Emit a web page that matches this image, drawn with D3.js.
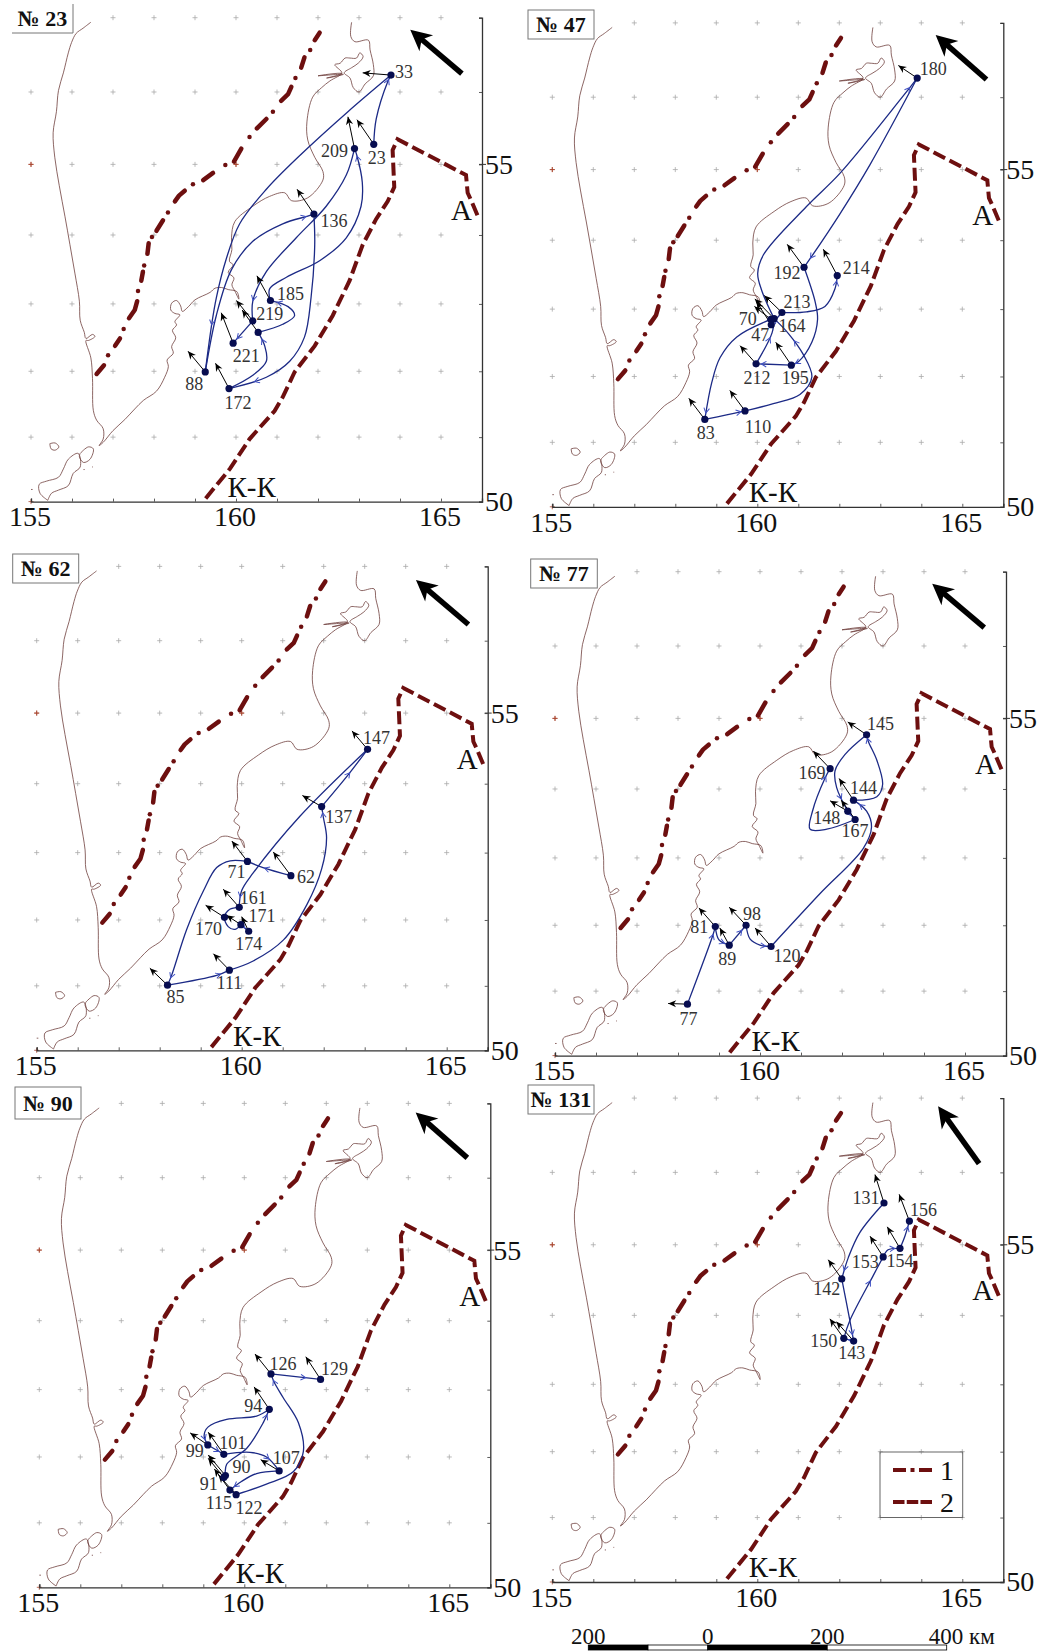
<!DOCTYPE html>
<html>
<head>
<meta charset="utf-8">
<script src="https://cdn.jsdelivr.net/npm/d3@7"></script>
<style>
    body { margin: 0; background: #fff; }
    text { font-family: "Liberation Serif", serif; }
</style>
</head>
<body>
<div id="chart"></div>
<script>
// map base, all in lon / lat
const coastMain = [[156.46,56.94],[156.27,56.86],[156.10,56.79],[155.99,56.67],[155.91,56.53],[155.79,56.26],[155.67,56.02],[155.62,55.73],[155.54,55.44],[155.58,55.10],[155.69,54.70],[155.83,54.26],[155.95,53.86],[156.07,53.45],[156.18,53.04],[156.20,52.76],[156.30,52.58],[156.34,52.49],[156.50,52.55],[156.56,52.52],[156.40,52.46],[156.34,52.46],[156.46,52.20],[156.50,51.89],[156.52,51.41],[156.60,51.26],[156.76,51.13],[156.76,50.97],[156.66,50.87],[156.76,50.92],[157.00,51.10],[157.29,51.27],[157.53,51.43],[157.74,51.56],[158.06,51.70],[158.26,51.91],[158.35,52.07],[158.32,52.17],[158.47,52.27],[158.43,52.37],[158.53,52.50],[158.45,52.61],[158.55,52.69],[158.51,52.74],[158.63,52.84],[158.51,52.86],[158.41,52.91],[158.43,53.01],[158.55,53.05],[158.65,52.97],[158.69,52.89],[158.84,52.96],[159.00,53.06],[159.37,53.17],[159.49,53.23],[159.65,53.24],[159.81,53.21],[160.02,53.18],[160.07,53.07],[159.98,53.18],[159.90,53.28],[159.95,53.38],[159.81,53.46],[159.93,53.57],[159.84,53.62],[159.90,53.79],[159.89,53.96],[159.97,54.19],[160.41,54.41],[160.82,54.55],[161.19,54.60],[161.35,54.49],[161.75,54.53],[162.12,54.78],[162.12,54.90],[161.92,55.10],[161.75,55.34],[161.73,55.59],[161.87,55.93],[162.09,56.06],[162.29,56.15],[162.58,56.25],[162.00,56.22],[162.62,56.24],[162.21,56.19],[162.58,56.26],[162.41,56.37],[162.54,56.39],[162.66,56.46],[162.78,56.46],[162.94,56.46],[163.02,56.53],[163.10,56.48],[162.98,56.39],[162.82,56.33],[162.64,56.26],[162.78,56.19],[162.86,56.06],[163.00,56.00],[163.15,56.11],[163.35,56.22],[163.35,56.37],[163.27,56.57],[163.23,56.70],[162.90,56.68],[162.80,56.75],[162.82,56.94]];
const coastParamushir = [[155.41,50.02],[155.22,50.13],[155.20,50.27],[155.38,50.32],[155.67,50.38],[155.79,50.51],[155.91,50.66],[156.15,50.75],[156.20,50.54],[156.03,50.44],[155.91,50.25],[155.67,50.18],[155.50,50.13],[155.41,50.02]];
const coastShumshu = [[156.20,50.75],[156.40,50.85],[156.52,50.82],[156.44,50.66],[156.28,50.61],[156.18,50.70],[156.20,50.75]];
const coastAlaid = [[155.46,50.90],[155.59,50.91],[155.68,50.85],[155.59,50.80],[155.49,50.82],[155.46,50.90]];
const coastRocks = [[[155.00,50.19],[155.04,50.19]],[[156.28,50.50],[156.31,50.50]],[[156.49,50.54],[156.51,50.54]]];

// line 1 is dash, dot, dash: one entry per stroke, a dot is one point drawn twice
const lineOne = [
    [[156.60,51.96],[156.78,52.09]],
    [[156.88,52.24],[156.88,52.24]],
    [[157.05,52.38],[157.17,52.49]],
    [[157.26,52.63],[157.26,52.63]],
    [[157.39,52.79],[157.53,52.91],[157.59,53.04]],
    [[157.61,53.19],[157.61,53.19]],
    [[157.69,53.34],[157.73,53.47]],
    [[157.76,53.56],[157.76,53.56]],
    [[157.84,53.73],[157.87,53.88]],
    [[157.95,53.97],[157.95,53.97]],
    [[158.06,54.06],[158.22,54.21]],
    [[158.34,54.32],[158.34,54.32]],
    [[158.51,54.48],[158.61,54.56],[158.75,54.63]],
    [[158.95,54.72],[158.95,54.72]],
    [[159.20,54.78],[159.44,54.88]],
    [[159.74,54.99],[159.74,54.99]],
    [[159.95,55.04],[160.13,55.22]],
    [[160.33,55.38],[160.33,55.38]],
    [[160.51,55.50],[160.74,55.63]],
    [[160.90,55.73],[160.90,55.73]],
    [[161.10,55.88],[161.27,55.97],[161.35,56.07]],
    [[161.45,56.19],[161.45,56.19]],
    [[161.59,56.33],[161.67,56.47]],
    [[161.81,56.57],[161.81,56.57]],
    [[161.92,56.70],[162.04,56.80]]
];
const lineTwo = [[159.26,50.05],[159.85,50.51],[160.33,50.97],[160.94,51.40],[161.14,51.61],[161.43,51.99],[161.92,52.38],[162.36,52.83],[162.77,53.34],[163.09,53.86],[163.42,54.23],[163.70,54.48],[163.86,54.68],[163.82,55.20],[163.94,55.35],[165.61,54.85],[165.65,54.60],[165.73,54.50],[165.89,54.28]];

const lonTicks = d3.range(155, 167);
const latTicks = d3.range(50, 58);
const lonLabels = [155, 160, 165];
const latLabels = [50, 55];
const redCrosses = [[155,50],[155,55],[160,55]];
const placeNames = [["А",165.5,54.36],["К-К",160.38,50.23]];

// stations: label, lon, lat, drift arrow tip lon, tip lat
const stations23 = [["33",163.78,56.23,163.09,56.26],["23",163.36,55.28,162.95,55.62],["209",162.89,55.22,162.73,55.66],["136",161.90,54.30,161.49,54.65],["185",160.84,53.05,160.51,53.41],["219",160.41,52.75,160.01,53.05],["",160.54,52.58,160.15,52.91],["221",159.93,52.42,159.64,52.87],["88",159.25,51.99,158.83,52.30],["172",159.83,51.74,159.50,52.12]];
const labelShift23 = [[13,-3],[3,13],[-20,2],[20,7],[20,-7],[17,-7],[0,0],[13,13],[-11,12],[9,14]];
const tracks23 = [
    {at: .93, pts: [[163.36,55.28],[163.42,55.63],[163.70,56.14],[163.78,56.23]]},
    {at: .87, pts: [[163.78,56.23],[162.73,55.73],[161.55,55.12],[160.74,54.65],[160.09,54.16],[159.76,53.65],[159.52,53.09],[159.40,52.67],[159.25,51.99]]},
    {at: .96, pts: [[159.25,51.99],[159.52,52.83],[159.89,53.50],[160.41,53.91],[161.14,54.16],[161.75,54.27],[161.90,54.30]]},
    {at: .88, pts: [[161.90,54.30],[161.92,53.86],[161.83,53.09],[161.67,52.51],[161.31,52.15],[160.74,51.91],[159.83,51.74]]},
    {at: .9, pts: [[159.83,51.74],[160.41,51.94],[160.74,52.15],[160.70,52.38],[160.54,52.58]]},
    {at: .9, pts: [[160.54,52.58],[161.14,52.70],[161.43,52.83],[161.27,52.96],[160.84,53.05]]},
    {at: .96, pts: [[160.84,53.05],[160.82,53.22],[161.23,53.39],[162.04,53.63],[162.69,53.96],[163.05,54.41],[163.08,54.75],[162.95,55.12],[162.89,55.22]]},
    {at: .9, pts: [[162.89,55.22],[162.69,54.85],[162.20,54.41],[161.47,53.96],[160.74,53.47],[160.41,53.04],[160.41,52.75]]},
    {at: .8, pts: [[160.41,52.75],[159.93,52.42]]}
];
const wind23 = [165.51,56.25,164.25,56.84];

const stations47 = [["180",163.90,56.26,163.44,56.43],["192",161.14,53.61,160.73,53.94],["214",161.95,53.49,161.61,53.87],["213",160.60,52.95,160.17,53.20],["164",160.41,52.86,159.94,53.15],["70",160.33,52.85,159.93,53.04],["47",160.34,52.77,159.98,53.11],["212",159.97,52.19,159.58,52.46],["195",160.83,52.17,160.45,52.51],["110",159.70,51.48,159.33,51.79],["83",158.72,51.35,158.33,51.67]];
const labelShift47 = [[16,-9],[-17,5],[19,-8],[15,-11],[18,7],[-23,-1],[-11,10],[1,14],[4,13],[13,16],[1,13]];
const tracks47 = [
    {at: .9, pts: [[158.72,51.35],[159.25,51.42],[159.70,51.48]]},
    {at: .8, pts: [[159.70,51.48],[160.39,51.59],[161.04,51.73],[161.33,51.99],[161.12,52.33],[160.76,52.64],[160.41,52.86]]},
    {at: .6, pts: [[159.97,52.19],[160.36,52.65],[160.41,52.86]]},
    {at: .85, pts: [[160.83,52.17],[159.97,52.19]]},
    {at: .96, pts: [[161.14,53.61],[161.41,53.11],[161.47,52.85],[161.33,52.51],[161.00,52.22],[160.83,52.17]]},
    {at: .95, pts: [[163.90,56.26],[162.75,55.07],[162.02,54.38],[161.33,53.77],[161.14,53.61]]},
    {at: .96, pts: [[160.41,52.86],[160.11,53.27],[160.01,53.52],[160.15,53.79],[161.20,54.48],[162.02,54.95],[163.52,55.99],[163.90,56.26]]},
    {at: .95, pts: [[160.33,52.85],[159.50,52.59],[159.09,52.28],[158.89,51.91],[158.72,51.35]]},
    {at: .93, pts: [[160.60,52.95],[161.20,52.96],[161.65,53.04],[161.89,53.29],[161.95,53.49]]},
    {at: .5, pts: [[160.34,52.77],[160.60,52.95]]}
];
const wind47 = [165.59,56.24,164.35,56.84];

const stations62 = [["147",163.07,54.49,162.69,54.75],["137",161.95,53.67,161.48,53.83],["62",161.20,52.66,160.77,53.01],["71",160.14,52.87,159.76,53.17],["161",159.94,52.19,159.55,52.46],["170",159.58,52.04,159.12,52.22],["171",159.98,51.93,159.63,52.07],["174",160.17,51.83,160.00,52.05],["111",159.70,51.24,159.31,51.49],["85",158.19,51.01,157.76,51.27]];
const labelShift62 = [[9,-12],[17,10],[15,1],[-11,10],[14,-10],[-16,11],[21,-9],[0,12],[0,13],[8,12]];
const tracks62 = [
    {at: .6, pts: [[161.20,52.66],[160.52,52.78],[160.14,52.87]]},
    {at: .95, pts: [[160.14,52.87],[159.72,52.88],[159.39,52.78],[159.07,52.44],[158.66,51.86],[158.29,51.16],[158.19,51.01]]},
    {at: .85, pts: [[158.19,51.01],[159.39,51.16],[159.70,51.24]]},
    {at: .97, pts: [[159.70,51.24],[160.28,51.38],[161.02,51.70],[161.59,52.23],[161.95,52.76],[162.07,53.22],[161.99,53.52],[161.95,53.67]]},
    {at: .6, pts: [[161.95,53.67],[162.60,54.13],[163.07,54.49]]},
    {at: .95, pts: [[163.07,54.49],[161.42,53.53],[160.28,52.70],[160.00,52.44],[159.94,52.19]]},
    {at: .5, pts: [[159.94,52.19],[159.71,52.16],[159.58,52.04],[159.67,51.90],[159.84,51.86],[159.98,51.93]]},
    {at: .5, pts: [[159.98,51.93],[160.17,51.83]]}
];
const wind62 = [165.53,56.22,164.25,56.82];

const stations77 = [["145",162.60,54.77,162.14,54.95],["169",161.71,54.29,161.30,54.54],["144",162.28,53.84,161.93,54.15],["148",162.14,53.68,161.71,53.83],["167",162.32,53.56,161.98,53.84],["120",160.27,51.68,159.88,51.96],["98",159.66,52.00,159.25,52.27],["89",159.25,51.70,159.02,51.96],["81",158.91,51.98,158.51,52.26],["77",158.23,50.80,157.76,50.81]];
const labelShift77 = [[14,-11],[-18,4],[10,-12],[-21,6],[0,11],[16,9],[6,-12],[-2,14],[-16,0],[1,15]];
const tracks77 = [
    {at: .9, pts: [[158.23,50.80],[158.85,51.85],[158.91,51.98]]},
    {at: .8, pts: [[158.91,51.98],[159.00,51.78],[159.25,51.70]]},
    {at: .75, pts: [[159.25,51.70],[159.66,52.00]]},
    {at: .85, pts: [[159.66,52.00],[159.76,51.79],[160.00,51.70],[160.27,51.68]]},
    {at: .96, pts: [[160.27,51.68],[161.46,52.47],[162.52,53.14],[162.72,53.45],[162.60,53.68],[162.28,53.84]]},
    {at: .96, pts: [[162.28,53.84],[162.85,53.89],[162.99,54.06],[162.85,54.41],[162.64,54.68],[162.60,54.77]]},
    {at: .85, pts: [[162.60,54.77],[162.07,54.49],[161.83,54.26],[161.87,54.02],[162.14,53.68]]},
    {at: .5, pts: [[162.14,53.68],[162.32,53.56]]},
    {at: .92, pts: [[162.32,53.56],[161.63,53.42],[161.22,53.42],[161.28,53.68],[161.59,54.16],[161.71,54.29]]}
];
const wind77 = [165.47,56.25,164.20,56.84];

const stations90 = [["126",160.65,53.23,160.26,53.52],["129",161.86,53.15,161.50,53.48],["94",160.61,52.71,160.24,53.04],["101",159.50,52.04,159.12,52.37],["99",159.11,52.18,158.68,52.36],["90",159.54,51.72,159.12,52.03],["91",159.50,51.69,159.12,51.98],["115",159.65,51.50,159.27,51.82],["122",159.80,51.43,159.37,51.73],["107",160.85,51.79,160.40,51.96]];
const labelShift90 = [[12,-10],[14,-11],[-16,-4],[9,-12],[-13,6],[16,-9],[-15,6],[-11,13],[13,13],[7,-13]];
const tracks90 = [
    {at: .93, pts: [[159.54,51.72],[159.57,51.89],[160.06,52.13],[160.46,52.51],[160.61,52.71]]},
    {at: .93, pts: [[160.61,52.71],[160.30,52.61],[159.57,52.56],[159.12,52.45],[159.02,52.32],[159.11,52.18]]},
    {at: .7, pts: [[159.11,52.18],[159.50,52.04]]},
    {at: .75, pts: [[159.50,52.04],[160.14,52.07],[160.54,52.00],[160.85,51.79]]},
    {at: .9, pts: [[160.85,51.79],[160.30,51.75],[159.93,51.63],[159.65,51.50]]},
    {at: .5, pts: [[159.65,51.50],[159.80,51.43]]},
    {at: .96, pts: [[159.80,51.43],[160.54,51.59],[161.20,51.78],[161.44,52.08],[161.32,52.51],[160.95,52.88],[160.72,53.12],[160.65,53.23]]},
    {at: .7, pts: [[160.65,53.23],[161.86,53.15]]}
];
const wind90 = [165.44,56.27,164.18,56.88];

const stations131 = [["131",163.09,55.58,162.87,55.97],["156",163.71,55.33,163.46,55.70],["153",163.07,54.83,162.75,55.12],["154",163.48,54.95,163.17,55.25],["142",162.06,54.52,161.73,54.79],["150",162.11,53.67,161.77,53.95],["143",162.35,53.63,161.93,53.91]];
const labelShift131 = [[-18,-5],[14,-11],[-18,5],[0,12],[-15,10],[-20,2],[-2,12]];
const tracks131 = [
    {at: .9, pts: [[163.09,55.58],[162.50,55.17],[162.22,54.82],[162.06,54.52]]},
    {at: .9, pts: [[162.06,54.52],[162.25,53.95],[162.35,53.63]]},
    {at: .5, pts: [[162.35,53.63],[162.11,53.67]]},
    {at: .7, pts: [[162.11,53.67],[162.26,53.93],[162.83,54.57],[163.07,54.83]]},
    {at: .75, pts: [[163.07,54.83],[163.19,54.93],[163.48,54.95]]},
    {at: .8, pts: [[163.48,54.95],[163.60,55.12],[163.71,55.33]]}
];
const wind131 = [165.41,56.12,164.41,56.89];

const titles = ["№ 23","№ 47","№ 62","№ 77","№ 90","№ 131"];
const stationSets = [stations23,stations47,stations62,stations77,stations90,stations131];
const labelShifts = [labelShift23,labelShift47,labelShift62,labelShift77,labelShift90,labelShift131];
const trackSets = [tracks23,tracks47,tracks62,tracks77,tracks90,tracks131];
const windSets = [wind23,wind47,wind62,wind77,wind90,wind131];

const legendKeys = ["1","2"];
const scaleStops = [-200,-100,0,200,400];
const scaleLabels = [[-200,"200"],[0,"0"],[200,"200"]];

// panel placement on the page
const panelOrigins = [[31,501.6],[552.3,506.8],[36.7,1050.3],[555,1055.6],[39.3,1587.3],[552.3,1582]];
const titleBoxes = [[12,4,61,29],[528,10,66,29],[12.7,554,66,29],[530.7,559,66.6,29],[15,1087,66,32],[528,1085,66,29]];

const pxPerDegree = 41;
const colors = {coast: "#6e3f3c", cross: "#a9a9a9", red: "#a8452f", border: "#6d0f0f", track: "#1c2a86", head: "#3f50c4", dot: "#070d50", text: "#333", axis: "#333"};
const dashTwo = "13 5";


class MapPanel {

    constructor(svg, index) {
        this.svg = svg;
        this.index = index;
        this.initVis();
    }

    initVis() {
        let vis = this;
        let [x0, y0] = panelOrigins[vis.index];

        vis.g = vis.svg.append("g").attr("class", "panel");

        vis.projection = d3.geoMercator()
            .scale(pxPerDegree * 180 / Math.PI)
            .center([155, 50])
            .translate([x0, y0]);

        vis.line = d3.line().x(d => vis.projection(d)[0]).y(d => vis.projection(d)[1]);
        vis.x = d3.scaleLinear().domain([155, 166]).range([x0, x0 + 11 * pxPerDegree]);
        vis.y = d3.scaleLinear().domain(latTicks).range(latTicks.map(la => vis.projection([155, la])[1]));

        vis.drawBase();
        vis.drawAxes();
        vis.drawTracks();
        vis.drawStations();
        vis.drawTitle();
    }

    drawBase() {
        let vis = this;

        // small crosses at every whole degree
        let crosses = [];
        lonTicks.slice(0, -1).forEach(lo => latTicks.slice(1).forEach(la => {
            if (la === 57 && lo < 157) return;
            crosses.push([lo, la]);
        }));
        redCrosses.forEach(c => crosses.push(c));

        vis.g.selectAll(".cross")
            .data(crosses)
            .enter()
            .append("path")
            .attr("class", "cross")
            .attr("d", d => {
                let [px, py] = vis.projection(d);
                return `M${px - 2.5},${py}H${px + 2.5}M${px},${py - 2.5}V${py + 2.5}`;
            })
            .attr("fill", "none")
            .attr("stroke-width", 0.8)
            .attr("stroke", d => redCrosses.some(c => c[0] === d[0] && c[1] === d[1]) ? colors.red : colors.cross);

        vis.g.selectAll(".coast")
            .data([coastMain, coastParamushir, coastShumshu, coastAlaid, ...coastRocks])
            .enter()
            .append("path")
            .attr("class", "coast")
            .attr("d", vis.line.curve(d3.curveCatmullRom.alpha(0.5)))
            .attr("fill", "none")
            .attr("stroke", colors.coast)
            .attr("stroke-width", 0.8);
        vis.line.curve(d3.curveLinear);

        vis.g.selectAll(".line-one")
            .data(lineOne)
            .enter()
            .append("path")
            .attr("class", "line-one")
            .attr("d", vis.line)
            .attr("fill", "none")
            .attr("stroke", colors.border)
            .attr("stroke-width", 4.5)
            .attr("stroke-linecap", "round")
            .attr("stroke-linejoin", "round");

        vis.g.append("path")
            .datum(lineTwo)
            .attr("d", vis.line)
            .attr("fill", "none")
            .attr("stroke", colors.border)
            .attr("stroke-width", 4)
            .attr("stroke-dasharray", dashTwo);

        vis.g.selectAll(".place")
            .data(placeNames)
            .enter()
            .append("text")
            .attr("class", "place")
            .attr("x", d => vis.projection([d[1], d[2]])[0])
            .attr("y", d => vis.projection([d[1], d[2]])[1])
            .attr("dy", "0.35em")
            .attr("text-anchor", "middle")
            .attr("font-size", 29)
            .attr("fill", "#111")
            .text(d => d[0]);

        // wide black arrow in the corner
        let wind = windSets[vis.index];
        let tail = vis.projection([wind[0], wind[1]]);
        let tip = vis.projection([wind[2], wind[3]]);
        let angle = Math.atan2(tip[1] - tail[1], tip[0] - tail[0]);
        vis.g.append("line")
            .attr("x1", tail[0]).attr("y1", tail[1])
            .attr("x2", tip[0] - 12 * Math.cos(angle)).attr("y2", tip[1] - 12 * Math.sin(angle))
            .attr("stroke", "#000")
            .attr("stroke-width", 5.5);
        vis.g.append("path")
            .attr("d", "M0,0L-21,-10.5L-15,0L-21,10.5Z")
            .attr("transform", `translate(${tip[0]},${tip[1]}) rotate(${angle * 180 / Math.PI})`)
            .attr("fill", "#000");
    }

    drawAxes() {
        let vis = this;
        let [x0, y0] = panelOrigins[vis.index];
        let xRight = vis.x(166);

        let xAxis = d3.axisBottom(vis.x)
            .tickValues(lonTicks)
            .tickSize(-3)
            .tickPadding(5)
            .tickFormat(d => lonLabels.includes(d) ? d : "");

        let yAxis = d3.axisRight(vis.y)
            .tickValues(latTicks)
            .tickSize(-3)
            .tickPadding(3)
            .tickFormat(d => latLabels.includes(d) ? d : "");

        [vis.g.append("g").attr("transform", `translate(0,${y0})`).call(xAxis),
         vis.g.append("g").attr("transform", `translate(${xRight},0)`).call(yAxis)].forEach(ax => {
            ax.attr("font-family", null).attr("font-size", 28);
            ax.selectAll("text").attr("fill", "#111");
            ax.selectAll("line").attr("stroke", colors.axis).attr("stroke-width", 0.8);
            ax.select(".domain").attr("stroke", colors.axis).attr("stroke-width", 1.3);
        });

        // the bottom labels sit slightly left of their ticks
        vis.g.selectAll("g.tick text").filter(d => lonLabels.includes(d) && d > 100).attr("dx", -1.5);

        // longer tick beside the 55
        vis.g.append("line")
            .attr("x1", xRight - 3).attr("x2", xRight + 4)
            .attr("y1", vis.y(55)).attr("y2", vis.y(55))
            .attr("stroke", colors.axis);
    }

    drawTracks() {
        let vis = this;
        let curve = d3.line()
            .x(d => vis.projection(d)[0])
            .y(d => vis.projection(d)[1])
            .curve(d3.curveCatmullRom.alpha(0.5));

        let paths = vis.g.selectAll(".track")
            .data(trackSets[vis.index])
            .enter()
            .append("path")
            .attr("class", "track")
            .attr("d", d => curve(d.pts))
            .attr("fill", "none")
            .attr("stroke", colors.track)
            .attr("stroke-width", 1.3);

        // open arrowhead somewhere along each leg
        paths.each(function(d) {
            let len = this.getTotalLength();
            let p = this.getPointAtLength(len * d.at);
            let q = this.getPointAtLength(Math.max(0, len * d.at - 2));
            let angle = Math.atan2(p.y - q.y, p.x - q.x) * 180 / Math.PI;
            vis.g.append("path")
                .attr("d", "M-5,-2.8L0,0L-5,2.8")
                .attr("transform", `translate(${p.x},${p.y}) rotate(${angle})`)
                .attr("fill", "none")
                .attr("stroke", colors.head)
                .attr("stroke-width", 1);
        });
    }

    drawStations() {
        let vis = this;
        let stations = stationSets[vis.index];
        let shifts = labelShifts[vis.index];

        vis.g.selectAll(".drift")
            .data(stations)
            .enter()
            .append("line")
            .attr("class", "drift")
            .attr("x1", d => vis.projection([d[1], d[2]])[0])
            .attr("y1", d => vis.projection([d[1], d[2]])[1])
            .attr("x2", d => vis.projection([d[3], d[4]])[0])
            .attr("y2", d => vis.projection([d[3], d[4]])[1])
            .attr("stroke", "#000")
            .attr("stroke-width", 1)
            .attr("marker-end", "url(#driftHead)");

        vis.g.selectAll(".station")
            .data(stations)
            .enter()
            .append("circle")
            .attr("class", "station")
            .attr("cx", d => vis.projection([d[1], d[2]])[0])
            .attr("cy", d => vis.projection([d[1], d[2]])[1])
            .attr("r", 3.6)
            .attr("fill", colors.dot);

        vis.g.selectAll(".station-label")
            .data(stations)
            .enter()
            .append("text")
            .attr("class", "station-label")
            .attr("x", (d, i) => vis.projection([d[1], d[2]])[0] + shifts[i][0])
            .attr("y", (d, i) => vis.projection([d[1], d[2]])[1] + shifts[i][1])
            .attr("dy", "0.35em")
            .attr("text-anchor", "middle")
            .attr("font-size", 18)
            .attr("fill", colors.text)
            .text(d => d[0]);
    }

    drawTitle() {
        let vis = this;
        let [bx, by, bw, bh] = titleBoxes[vis.index];

        if (vis.index === 0) {
            // first box is cut off, only its right and bottom sides show
            vis.g.append("path")
                .attr("d", `M${bx + bw},${by}V${by + bh}H${bx}`)
                .attr("fill", "none")
                .attr("stroke", "#777");
        } else {
            vis.g.append("rect")
                .attr("x", bx).attr("y", by)
                .attr("width", bw).attr("height", bh)
                .attr("fill", "#fff")
                .attr("stroke", "#777");
        }

        vis.g.append("text")
            .attr("x", bx + bw / 2)
            .attr("y", by + bh / 2)
            .attr("dy", "0.35em")
            .attr("text-anchor", "middle")
            .attr("font-size", 22)
            .attr("font-weight", "bold")
            .attr("fill", "#111")
            .text(titles[vis.index]);
    }
}


function drawLegend(svg) {
    let keyY = d3.scalePoint().domain(legendKeys).range([1470, 1502]);
    let g = svg.append("g");

    g.append("rect")
        .attr("x", 880).attr("y", 1452)
        .attr("width", 82.7).attr("height", 65.5)
        .attr("fill", "none")
        .attr("stroke", "#666");

    g.selectAll(".key")
        .data(legendKeys)
        .enter()
        .append("line")
        .attr("x1", 893).attr("x2", 932)
        .attr("y1", d => keyY(d)).attr("y2", d => keyY(d))
        .attr("stroke", colors.border)
        .attr("stroke-width", 4)
        .attr("stroke-dasharray", d => d === "1" ? "13 4.5 4 4.5 13" : "11.5 2.25");

    g.selectAll(".key-label")
        .data(legendKeys)
        .enter()
        .append("text")
        .attr("x", 947)
        .attr("y", d => keyY(d))
        .attr("dy", "0.35em")
        .attr("text-anchor", "middle")
        .attr("font-size", 28)
        .attr("fill", "#111")
        .text(d => d);
}

function drawScaleBar(svg) {
    let km = d3.scaleLinear().domain([-200, 400]).range([588.3, 946.7]);
    let g = svg.append("g");

    g.selectAll("rect")
        .data(d3.pairs(scaleStops))
        .enter()
        .append("rect")
        .attr("x", d => km(d[0]))
        .attr("y", 1645)
        .attr("width", d => km(d[1]) - km(d[0]))
        .attr("height", 5)
        .attr("fill", (d, i) => i % 2 ? "#fff" : "#000")
        .attr("stroke", "#000")
        .attr("stroke-width", 0.8);

    g.selectAll("text")
        .data(scaleLabels)
        .enter()
        .append("text")
        .attr("x", d => km(d[0]))
        .attr("y", 1635.5)
        .attr("dy", "0.35em")
        .attr("text-anchor", "middle")
        .attr("font-size", 23)
        .attr("fill", "#111")
        .text(d => d[1]);

    g.append("text")
        .attr("x", 961.7)
        .attr("y", 1635.5)
        .attr("dy", "0.35em")
        .attr("text-anchor", "middle")
        .attr("font-size", 23)
        .attr("fill", "#111")
        .text("400 км");
}


const svg = d3.select("#chart").append("svg")
    .attr("width", 1040)
    .attr("height", 1651)
    .style("display", "block");

svg.append("defs").append("marker")
    .attr("id", "driftHead")
    .attr("markerUnits", "userSpaceOnUse")
    .attr("viewBox", "-9 -4.5 10 9")
    .attr("refX", 0)
    .attr("refY", 0)
    .attr("markerWidth", 10)
    .attr("markerHeight", 9)
    .attr("orient", "auto")
    .append("path")
    .attr("d", "M-8,-3.6L0,0L-8,3.6L-5.5,0Z")
    .attr("fill", "#000");

titles.forEach((t, i) => new MapPanel(svg, i));
drawLegend(svg);
drawScaleBar(svg);
</script>
</body>
</html>
